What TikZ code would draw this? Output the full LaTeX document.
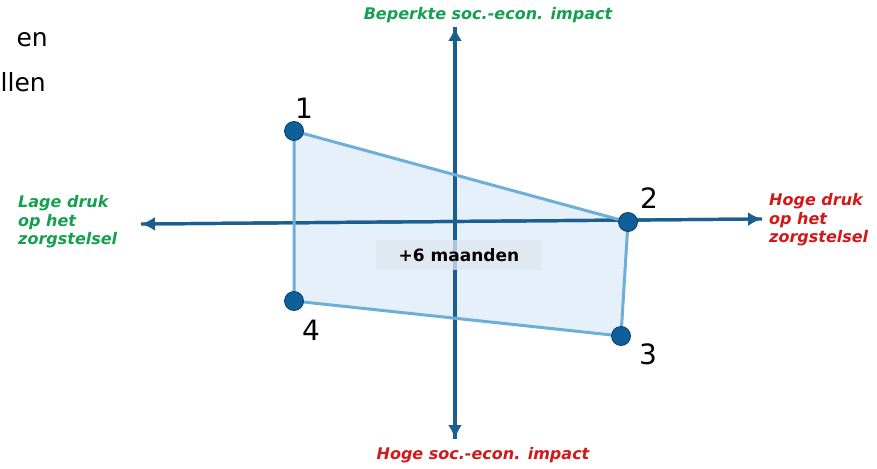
\documentclass[tikz,border=0pt]{standalone}
\usepackage{fontspec}
\setmainfont{DejaVu Sans}
\usetikzlibrary{arrows.meta}
\definecolor{axisblue}{RGB}{27,95,145}
\definecolor{dotblue}{RGB}{15,95,155}
\definecolor{dotedge}{RGB}{10,60,100}
\definecolor{polyline}{RGB}{110,175,215}
\definecolor{polyfill}{RGB}{230,240,251}
\definecolor{labgreen}{RGB}{20,160,80}
\definecolor{labred}{RGB}{210,25,25}
\definecolor{boxfill}{RGB}{222,230,238}
\tikzset{
  axis/.style={draw=axisblue, line width=3.2pt, -{Latex[length=14pt,width=14pt]}},
  edge/.style={draw=polyline, line width=3pt, line join=round},
  dot/.style={circle, fill=dotblue, draw=dotedge, line width=0.8pt, minimum size=19pt, inner sep=0pt},
  num/.style={font=\fontsize{28}{28}\selectfont, text=black, inner sep=0pt},
  lab/.style={font=\fontsize{16}{18.5}\selectfont\bfseries\itshape, inner sep=0pt, align=left},
  slide/.style={font=\fontsize{25}{25}\selectfont, text=black, inner sep=0pt},
}
\begin{document}
\begin{tikzpicture}[x=1pt,y=-1pt]
\useasboundingbox (0,0) rectangle (877,468);
% slide fragments
\node[slide, anchor=base east] (sa) at (48,47) {en};
\node[slide, anchor=base west] (sb) at (0.5,92) {llen};
% polygon points
\coordinate (p1) at (294,131);
\coordinate (p2) at (628,222);
\coordinate (p3) at (621,336);
\coordinate (p4) at (294,301);
\fill[polyfill] (p1) -- (p2) -- (p3) -- (p4) -- cycle;
% axes
\coordinate (xl) at (141,224);
\coordinate (xr) at (762,219);
\coordinate (yt) at (455,27);
\coordinate (yb) at (455,439);
\draw[axis] (xr) -- (xl);
\draw[axis] (xl) -- (xr);
\draw[axis] (yb) -- (yt);
\draw[axis] (yt) -- (yb);
% polygon edges
\draw[edge] (p1) -- (p2) -- (p3) -- (p4) -- cycle;
\node[dot] (d1) at (p1) {};
\node[dot] (d2) at (p2) {};
\node[dot] (d3) at (p3) {};
\node[dot] (d4) at (p4) {};
\node[num] (n1) at (304,108) {1};
\node[num] (n2) at (649,198) {2};
\node[num] (n3) at (648,354) {3};
\node[num] (n4) at (311,330) {4};
% box
\node[fill=boxfill, fill opacity=0.75, text opacity=1, minimum width=166pt, minimum height=30pt, inner sep=0pt,
      font=\fontsize{17}{17}\selectfont\bfseries, text=black] (bx) at (459,255) {+6 maanden};
% labels
\node[lab, text=labgreen] (lt) at (488,15) {Beperkte soc.-econ. impact};
\node[lab, text=labred] (lb) at (483,455) {Hoge soc.-econ. impact};
\node[lab, text=labgreen, anchor=west] (ll) at (18,222) {Lage druk\\op het\\zorgstelsel};
\node[lab, text=labred, anchor=west] (lr) at (769,220) {Hoge druk\\op het\\zorgstelsel};
\end{tikzpicture}
\end{document}
